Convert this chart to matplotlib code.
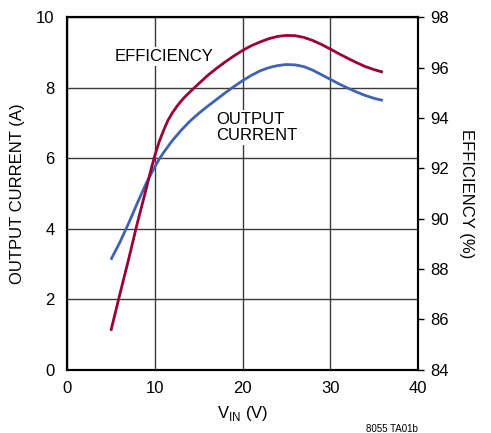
import matplotlib
matplotlib.use("Agg")
import matplotlib.pyplot as plt

plt.rcParams['font.family'] = ['Liberation Sans', 'DejaVu Sans']

# Output current (A) vs VIN (V)
vin_current = [5, 6, 7, 8, 9, 9.5, 10, 10.5, 11, 12, 13, 14, 15, 16, 17, 18, 19, 20, 21, 22, 23, 24, 25, 26, 27, 28, 29, 30, 31, 32, 33, 34, 35, 36]
current = [3.12, 3.6, 4.14, 4.72, 5.27, 5.52, 5.75, 5.97, 6.16, 6.5, 6.79, 7.05, 7.27, 7.47, 7.66, 7.85, 8.03, 8.2, 8.35, 8.48, 8.57, 8.63, 8.66, 8.65, 8.6, 8.5, 8.37, 8.24, 8.11, 7.99, 7.88, 7.78, 7.7, 7.64]

# Efficiency (%) vs VIN (V)
vin_eff = [5, 6, 7, 8, 9, 9.5, 10, 10.5, 11, 11.5, 12, 12.5, 13, 13.5, 14, 15, 16, 17, 18, 19, 20, 21, 22, 23, 24, 25, 26, 27, 28, 29, 30, 31, 32, 33, 34, 35, 36]
efficiency = [85.54, 86.96, 88.35, 89.8, 91.15, 91.85, 92.5, 93.05, 93.5, 93.9, 94.2, 94.45, 94.67, 94.86, 95.03, 95.36, 95.68, 95.96, 96.22, 96.46, 96.68, 96.87, 97.02, 97.15, 97.24, 97.28, 97.27, 97.2, 97.08, 96.92, 96.74, 96.55, 96.37, 96.2, 96.04, 95.92, 95.82]

left_ticks = [0, 2, 4, 6, 8, 10]
right_ticks = [84, 86, 88, 90, 92, 94, 96, 98]
x_ticks = [0, 10, 20, 30, 40]

RED = '#9a0036'
BLUE = '#3f62b3'

fig = plt.figure(figsize=(4.91, 4.33), dpi=100)
ax = fig.add_axes([67/491, 1 - 369.6/433, (418 - 67)/491, (369.6 - 17.3)/433])
ax2 = ax.twinx()

ax.set_xlim(0, 40)
ax.set_ylim(0, 10)
ax2.set_ylim(84, 98)

ax.set_xticks(x_ticks)
ax.set_yticks(left_ticks)
ax2.set_yticks(right_ticks)

ax.grid(True, color='#3a3a3a', linewidth=1.0, zorder=0.5)
ax.set_axisbelow(True)

ax.plot(vin_current, current, color=BLUE, linewidth=2.0, zorder=3,
        solid_capstyle='butt', solid_joinstyle='round')
ax2.plot(vin_eff, efficiency, color=RED, linewidth=2.0, zorder=3,
         solid_capstyle='butt', solid_joinstyle='round')

fs = 12
ax.tick_params(axis='both', length=0, labelsize=fs)
ax.tick_params(axis='y', pad=9)
ax.tick_params(axis='x', pad=8)
ax2.tick_params(axis='y', length=4, width=1.0, direction='out', labelsize=fs, pad=5)

for a in (ax, ax2):
    for s in a.spines.values():
        s.set_linewidth(1.5)
        s.set_color('black')

ax.set_ylabel('OUTPUT CURRENT (A)', fontsize=fs, labelpad=8)
ax2.set_ylabel('EFFICIENCY (%)', fontsize=fs, rotation=270, labelpad=18)
ax.set_xlabel(r'V$_{\mathregular{IN}}$ (V)', fontsize=fs, labelpad=6)

bbox = dict(facecolor='white', edgecolor='none', pad=1.5)
ax.text(11.06, 8.88, 'EFFICIENCY', fontsize=fs, ha='center', va='center', bbox=bbox, zorder=2)
ax.text(17.0, 6.87, 'OUTPUT\nCURRENT', fontsize=fs, ha='left', va='center', linespacing=1.05, bbox=bbox, zorder=2)

fig.text(418/491, 1 - 434/433, '8055 TA01b', fontsize=7, ha='right', va='bottom')

fig.savefig('out.png', dpi=100)
